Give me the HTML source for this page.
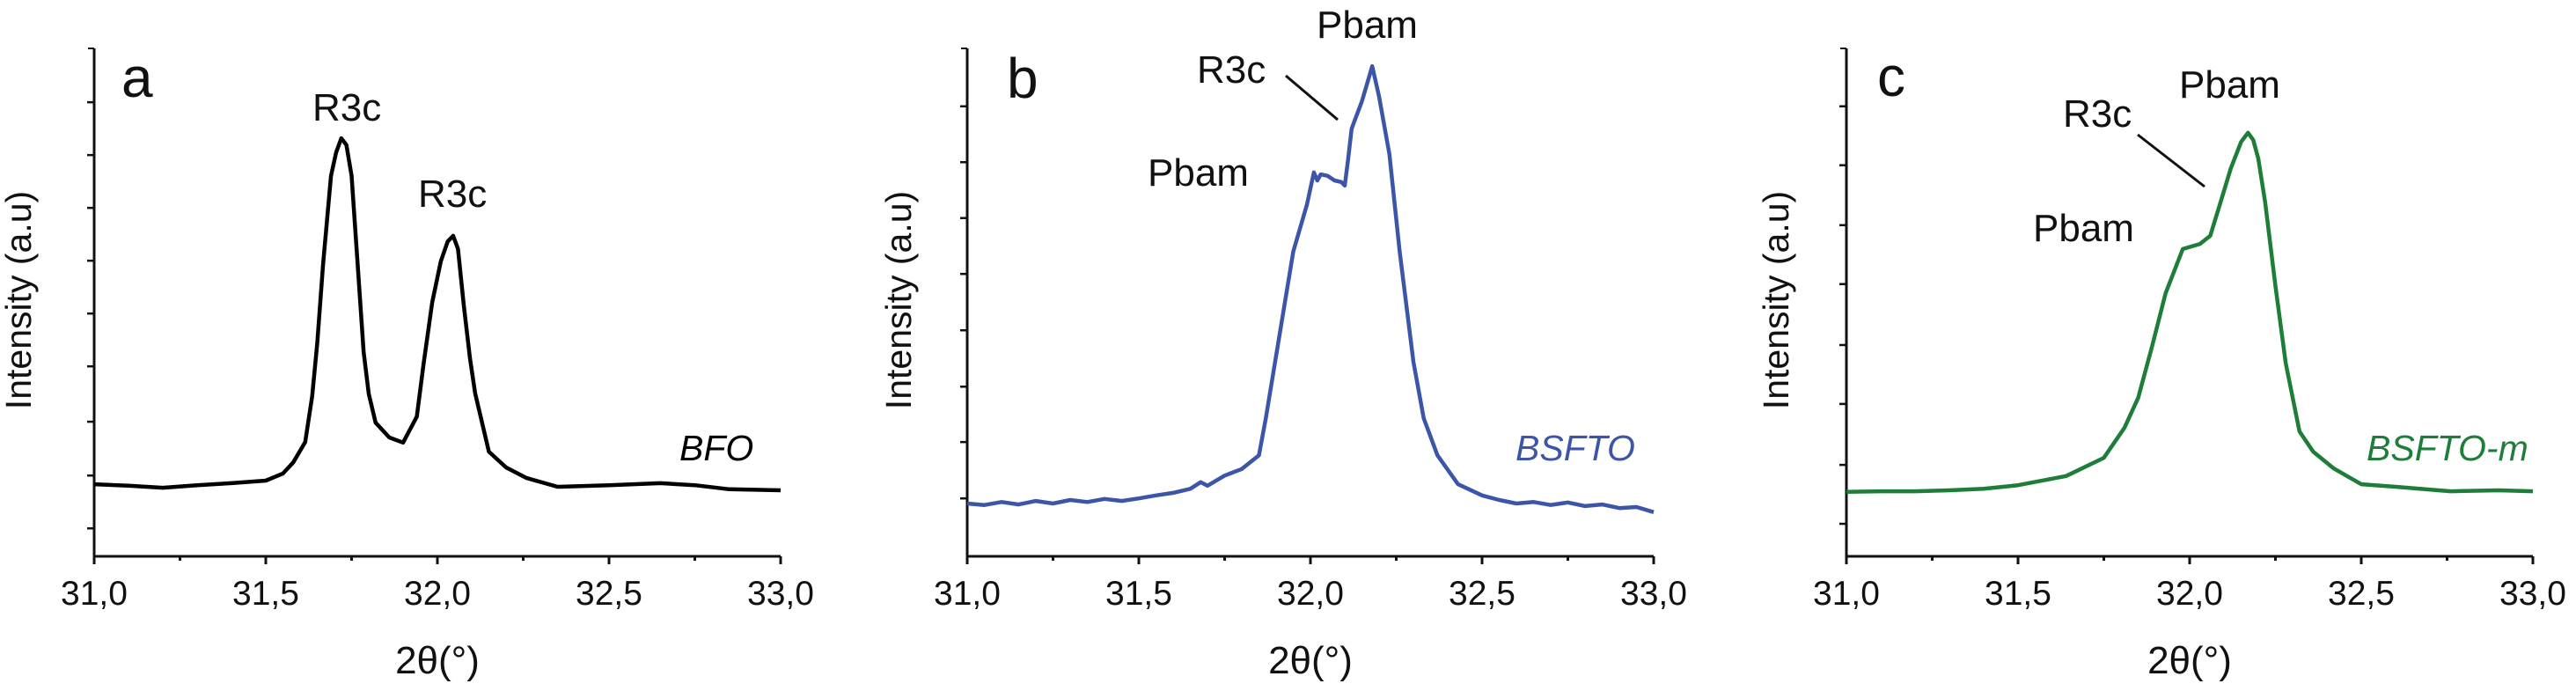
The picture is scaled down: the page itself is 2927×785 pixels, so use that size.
<!DOCTYPE html>
<html><head><meta charset="utf-8"><style>
html,body{margin:0;padding:0;background:#fff;}
svg{display:block;font-family:"Liberation Sans",Arial,sans-serif;}
</style></head><body>
<svg id="chart" width="2927" height="785" viewBox="0 0 2927 785" xmlns="http://www.w3.org/2000/svg"></svg>
<script>
// ---- data ----
const xTickLabels = ["31,0","31,5","32,0","32,5","33,0"];
const xTickValues = [31.0,31.5,32.0,32.5,33.0];
const xMinorValues = [31.25,31.75,32.25,32.75];

const bfoX = [31.00,31.10,31.20,31.30,31.40,31.50,31.55,31.58,31.615,31.635,31.65,31.667,31.69,31.705,31.72,31.735,31.75,31.765,31.785,31.80,31.82,31.86,31.90,31.94,31.96,31.985,32.01,32.03,32.046,32.06,32.077,32.095,32.11,32.15,32.20,32.26,32.35,32.50,32.65,32.75,32.85,33.00];
const bfoI = [14.2,13.9,13.5,14.0,14.4,14.9,16.3,18.5,22.5,31.5,42.0,57.5,74.9,79.5,82.3,81.0,74.9,60.0,40.2,32.0,26.3,23.4,22.4,27.5,38.0,50.0,58.1,62.0,63.1,60.5,49.4,39.0,32.1,20.6,17.5,15.4,13.7,14.0,14.4,14.0,13.2,13.0];

const bsftoX = [31.00,31.05,31.10,31.15,31.20,31.25,31.30,31.35,31.40,31.45,31.50,31.55,31.60,31.65,31.68,31.70,31.75,31.80,31.85,31.87,31.92,31.95,31.99,32.01,32.02,32.03,32.05,32.07,32.09,32.10,32.11,32.12,32.15,32.18,32.20,32.23,32.26,32.30,32.33,32.37,32.43,32.50,32.55,32.60,32.65,32.70,32.75,32.80,32.85,32.90,32.95,33.00];
const bsftoI = [10.4,10.1,10.7,10.2,10.9,10.4,11.1,10.7,11.3,10.9,11.4,12.0,12.5,13.3,14.6,13.9,15.9,17.2,19.9,27.2,47.7,60.0,69.3,75.6,74.0,75.2,74.9,74.0,73.7,73.0,78.3,84.2,89.6,96.5,90.5,79.2,60.0,38.3,27.2,19.9,14.2,12.0,11.1,10.4,10.7,10.1,10.6,9.9,10.2,9.5,9.7,8.7];

const mX = [31.00,31.10,31.20,31.30,31.40,31.50,31.64,31.75,31.81,31.85,31.89,31.93,31.98,32.03,32.06,32.09,32.12,32.15,32.17,32.185,32.20,32.22,32.25,32.28,32.32,32.36,32.42,32.50,32.60,32.76,32.90,33.00];
const mI = [12.7,12.8,12.8,13.0,13.3,14.0,15.8,19.4,25.3,31.2,41.2,51.8,60.5,61.5,63.1,69.7,76.4,81.6,83.4,82.0,78.3,69.7,53.2,38.0,24.6,20.6,17.3,14.2,13.7,12.8,13.0,12.8];

const yTicksA = [5.5,15.9,26.5,37.4,47.8,58.2,68.6,79.0,89.4];
const yTicksB = [11.4,22.5,33.4,44.5,55.6,66.6,77.6,88.6];
const yTicksC = [6.4,18.0,30.0,41.6,53.6,65.2,77.0,88.6];

const NS = "http://www.w3.org/2000/svg";
const svg = document.getElementById("chart");
function mk(tag, attrs, parent){
  const e = document.createElementNS(NS, tag);
  for (const k in attrs) e.setAttribute(k, attrs[k]);
  (parent||svg).appendChild(e);
  return e;
}
function panel(cfg){
  const g = mk("g", {});
  
  
  const x0 = cfg.x0, y0 = 632, top = 55, xEnd = x0 + 780;
  const xs = v => x0 + (v - 31) * 390;
  const ys = v => y0 - v * 5.77;
  const ya = mk("line", {x1:x0, y1:top, x2:x0, y2:y0+6, stroke:"#111", "stroke-width":3}, g);
  
  
  const xa = mk("line", {x1:x0-1, y1:y0, x2:xEnd, y2:y0, stroke:"#111", "stroke-width":3}, g);
  
  
  mk("line", {x1:x0-7, y1:top, x2:x0, y2:top, stroke:"#111", "stroke-width":2}, g);
  cfg.yticks.forEach(v => {
    const t = mk("line", {x1:x0-8, y1:ys(v), x2:x0, y2:ys(v), stroke:"#111", "stroke-width":2.5}, g);
    
    
  });
  xTickValues.forEach((v, i) => {
    const t = mk("line", {x1:xs(v), y1:y0, x2:xs(v), y2:y0+9, stroke:"#111", "stroke-width":3}, g);
    
    
    const l = mk("text", {x:xs(v), y:687, "text-anchor":"middle", "font-size":39, fill:"#111"}, g);
    l.textContent = xTickLabels[i];
    
    
  });
  xMinorValues.forEach(v => {
    const t = mk("line", {x1:xs(v), y1:y0, x2:xs(v), y2:y0+5, stroke:"#111", "stroke-width":3}, g);
    
    
  });
  const xt = mk("text", {x:x0+390, y:765, "text-anchor":"middle", "font-size":44, fill:"#111"}, g);
  xt.textContent = "2θ(°)";
  
  
  const yt = mk("text", {x:0, y:0, "text-anchor":"middle", "font-size":41, fill:"#111", transform:`translate(${x0-cfg.ylabOff},341) rotate(-90)`}, g);
  yt.textContent = "Intensity (a.u)";
  
  
  let d = "";
  cfg.xv.forEach((v, i) => { d += (i ? "L" : "M") + xs(v).toFixed(1) + " " + ys(cfg.iv[i]).toFixed(1); });
  const p = mk("path", {d:d, fill:"none", stroke:cfg.color, "stroke-width":4.5, "stroke-linejoin":"round"}, g);
  
  
  const pl = mk("text", {x:cfg.letterX, y:cfg.letterY, "font-size":64, fill:"#111"}, g);
  pl.textContent = cfg.letter;
  
  
  const sn = mk("text", {x:cfg.sampleX, y:523, "font-size":41, "font-style":"italic", fill:cfg.color}, g);
  sn.textContent = cfg.sample;
  
  
  cfg.ann.forEach(a => {
    const t = mk("text", {x:a[1], y:a[2], "font-size":44, fill:"#111"}, g);
    t.textContent = a[0];
    
    
  });
  if (cfg.leader) {
    const ln = mk("line", {x1:cfg.leader[0], y1:cfg.leader[1], x2:cfg.leader[2], y2:cfg.leader[3], stroke:"#111", "stroke-width":3}, g);
    
    
  }
}
panel({name:"panel-a-bfo", x0:107, yticks:yTicksA, xv:bfoX, iv:bfoI, color:"#000", series:"bfo-line",
  letter:"a", letterX:138, letterY:110, sample:"BFO", sampleX:772, ylabOff:72,
  ann:[["R3c",355,137],["R3c",475,235]]});
panel({name:"panel-b-bsfto", x0:1099, yticks:yTicksB, xv:bsftoX, iv:bsftoI, color:"#3d55a8", series:"bsfto-line",
  letter:"b", letterX:1144, letterY:111, sample:"BSFTO", sampleX:1722, ylabOff:64,
  ann:[["Pbam",1496,43],["R3c",1360,94],["Pbam",1304,211]], leader:[1461,86,1520,136]});
panel({name:"panel-c-bsfto-m", x0:2098, yticks:yTicksC, xv:mX, iv:mI, color:"#1f7d3a", series:"bsfto-m-line",
  letter:"c", letterX:2133, letterY:109, sample:"BSFTO-m", sampleX:2689, ylabOff:66,
  ann:[["Pbam",2476,111],["R3c",2344,144],["Pbam",2310,274]], leader:[2429,153,2505,212]});
</script>
</body></html>
